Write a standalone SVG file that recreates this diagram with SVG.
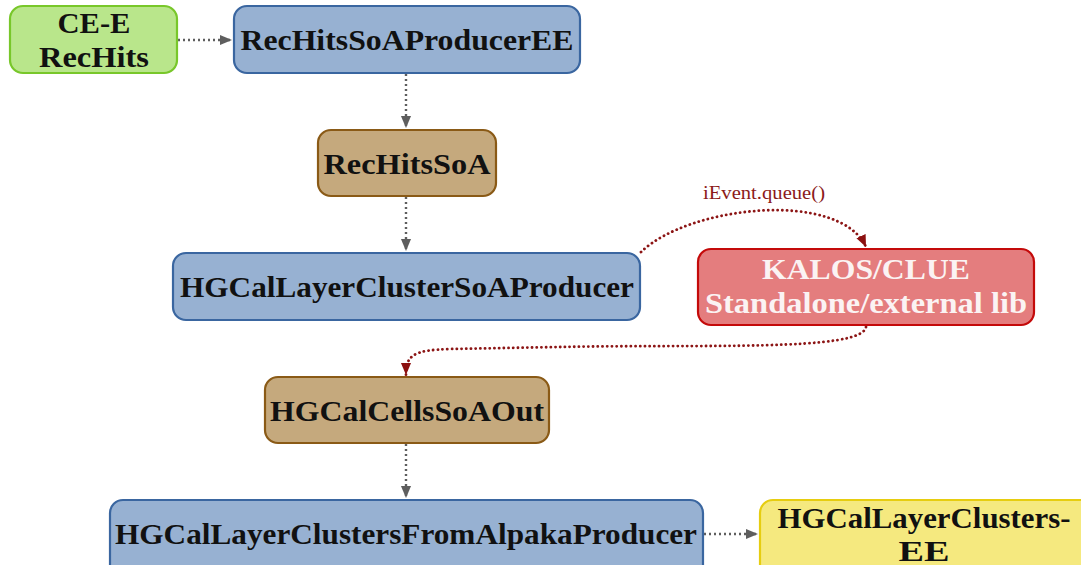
<svg xmlns="http://www.w3.org/2000/svg" width="1081" height="565" viewBox="0 0 1081 565">
  <style>
    .node { stroke-width: 2.2; }
    .green { fill: #b9e68b; stroke: #78c72a; }
    .blue { fill: #97b1d2; stroke: #3a66a0; }
    .tan { fill: #c5a97d; stroke: #8a5a16; }
    .red { fill: #e47d7e; stroke: #c40a0a; }
    .yellow { fill: #f5e97f; stroke: #e6cd10; }
    .lbl { font-family: "Liberation Serif", "DejaVu Serif", serif; font-weight: bold; font-size: 29px; fill: #111; text-anchor: middle; }
    .lbl.white { fill: #fbf3f3; }
    .flow { fill: none; stroke: #5e5e5e; stroke-width: 2.4; stroke-dasharray: 2 3; }
    .call { fill: none; stroke: #8c1515; stroke-width: 2.8; stroke-linecap: round; stroke-dasharray: 0.1 4.6; }
    .note { font-family: "Liberation Serif", "DejaVu Serif", serif; font-size: 18px; fill: #8c1a1a; text-anchor: middle; }
  </style>
  <defs>
    <marker id="ahGray" markerUnits="userSpaceOnUse" markerWidth="12" markerHeight="12" viewBox="0 0 10 10" refX="10" refY="5" orient="auto">
      <path d="M0,0.8 L10,5 L0,9.2 Z" fill="#5e5e5e"/>
    </marker>
    <marker id="ahRed" markerUnits="userSpaceOnUse" markerWidth="12" markerHeight="12" viewBox="0 0 10 10" refX="10" refY="5" orient="auto">
      <path d="M0,0.8 L10,5 L0,9.2 Z" fill="#8c1010"/>
    </marker>
  </defs>

  <g id="connectors">
    <path class="flow" d="M178,40 L232,40" marker-end="url(#ahGray)"/>
    <path class="flow" d="M406,74 L406,128" marker-end="url(#ahGray)"/>
    <path class="flow" d="M406,197 L406,251" marker-end="url(#ahGray)"/>
    <path class="flow" d="M406,444 L406,498" marker-end="url(#ahGray)"/>
    <path class="flow" d="M704,534 L758,534" marker-end="url(#ahGray)"/>
    <path class="call" d="M641,252 C690,205 840,190 866,247" marker-end="url(#ahRed)"/>
    <path class="call" d="M866,327 C862,352 700,344 560,347 L450,349 C412,350 406,356 406,375" marker-end="url(#ahRed)"/>
    <text class="note" x="764" y="199" textLength="122" lengthAdjust="spacingAndGlyphs">iEvent.queue()</text>
  </g>

  <g id="ce-e-rechits">
    <rect class="node green" x="10" y="6" width="167" height="67" rx="13"/>
    <text class="lbl" x="94" y="33" textLength="73" lengthAdjust="spacingAndGlyphs">CE-E</text>
    <text class="lbl" x="94" y="67" textLength="110" lengthAdjust="spacingAndGlyphs">RecHits</text>
  </g>

  <g id="rechits-soa-producer-ee">
    <rect class="node blue" x="234" y="6" width="346" height="67" rx="13"/>
    <text class="lbl" x="407" y="50" textLength="333" lengthAdjust="spacingAndGlyphs">RecHitsSoAProducerEE</text>
  </g>

  <g id="rechits-soa">
    <rect class="node tan" x="318" y="130" width="178" height="66" rx="13"/>
    <text class="lbl" x="407" y="174" textLength="167" lengthAdjust="spacingAndGlyphs">RecHitsSoA</text>
  </g>

  <g id="layer-cluster-soa-producer">
    <rect class="node blue" x="173" y="253" width="467" height="67" rx="13"/>
    <text class="lbl" x="407" y="297" textLength="454" lengthAdjust="spacingAndGlyphs">HGCalLayerClusterSoAProducer</text>
  </g>

  <g id="kalos-clue">
    <rect class="node red" x="698" y="249" width="336" height="76" rx="13"/>
    <text class="lbl white" x="866" y="279" textLength="208" lengthAdjust="spacingAndGlyphs">KALOS/CLUE</text>
    <text class="lbl white" x="866" y="313" textLength="322" lengthAdjust="spacingAndGlyphs">Standalone/external lib</text>
  </g>

  <g id="cells-soa-out">
    <rect class="node tan" x="265" y="377" width="284" height="66" rx="13"/>
    <text class="lbl" x="407" y="421" textLength="274" lengthAdjust="spacingAndGlyphs">HGCalCellsSoAOut</text>
  </g>

  <g id="layer-clusters-from-alpaka-producer">
    <rect class="node blue" x="110" y="500" width="593" height="80" rx="13"/>
    <text class="lbl" x="406" y="544" textLength="582" lengthAdjust="spacingAndGlyphs">HGCalLayerClustersFromAlpakaProducer</text>
  </g>

  <g id="layer-clusters-ee">
    <rect class="node yellow" x="760" y="500" width="340" height="80" rx="13"/>
    <text class="lbl" x="924" y="528" textLength="293" lengthAdjust="spacingAndGlyphs">HGCalLayerClusters-</text>
    <text class="lbl" x="924" y="561" textLength="51" lengthAdjust="spacingAndGlyphs">EE</text>
  </g>
</svg>
